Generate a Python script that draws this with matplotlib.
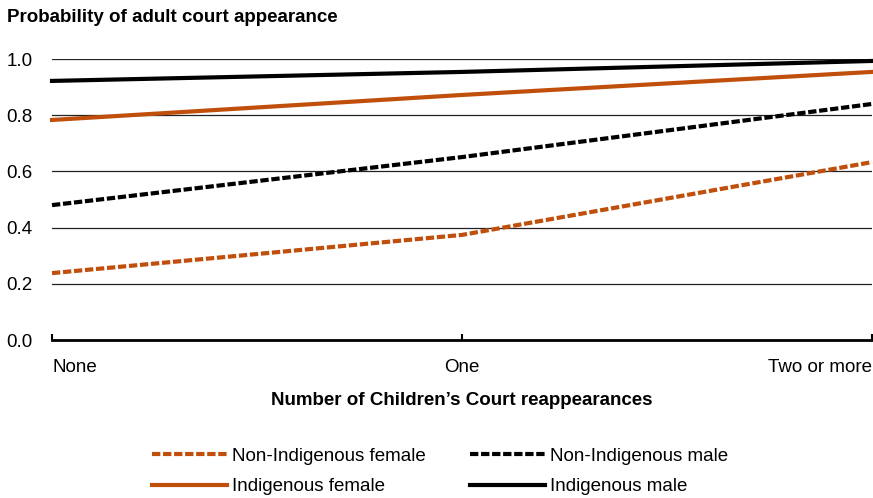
import matplotlib
matplotlib.use("Agg")
import matplotlib.pyplot as plt
from matplotlib.lines import Line2D

plt.rcParams['font.family'] = ['Liberation Sans', 'DejaVu Sans']

categories = ["None", "One", "Two or more"]
non_ind_female = [0.238, 0.374, 0.633]
non_ind_male = [0.480, 0.651, 0.840]
ind_female = [0.783, 0.872, 0.954]
ind_male = [0.922, 0.954, 0.993]
yticks = [0.0, 0.2, 0.4, 0.6, 0.8, 1.0]

orange = "#C04F0C"
fs = 13.5
fig = plt.figure(figsize=(8.73, 4.98), dpi=100)
ax = fig.add_axes([52/873, 1-340/498, 820/873, 281/498])

x = list(range(len(categories)))
for yv in yticks[1:]:
    ax.axhline(yv, color="#222222", lw=0.9, zorder=1)

dash = (0, (2.0, 0.65))
lw = 3.0
ax.plot(x, non_ind_female, color=orange, lw=lw, ls=dash, clip_on=False, zorder=3)
ax.plot(x, non_ind_male, color="black", lw=lw, ls=dash, clip_on=False, zorder=3)
ax.plot(x, ind_female, color=orange, lw=lw, clip_on=False, zorder=3)
ax.plot(x, ind_male, color="black", lw=lw, clip_on=False, zorder=3)

ax.set_xlim(0, 2)
ax.set_ylim(0, 1.0)
for s in ["top", "right", "left"]:
    ax.spines[s].set_visible(False)
ax.spines["bottom"].set_linewidth(2)
ax.set_yticks(yticks)
ax.set_yticklabels([f"{v:.1f}" for v in yticks], fontsize=fs)
ax.tick_params(axis="y", length=0, pad=14)
ax.set_xticks(x)
ax.set_xticklabels(categories, fontsize=fs)
ax.tick_params(axis="x", direction="in", length=4, width=1.5, pad=13.5)
labs = ax.get_xticklabels()
labs[0].set_ha("left")
labs[2].set_ha("right")

fig.text(7/873, 1-18/498, "Probability of adult court appearance", fontsize=fs,
         fontweight="bold", va="center", ha="left")
fig.text(462/873, 1-400/498, "Number of Children\u2019s Court reappearances", fontsize=fs,
         fontweight="bold", va="center", ha="center")

handles = [
    Line2D([], [], color=orange, lw=lw, ls=dash),
    Line2D([], [], color=orange, lw=lw),
    Line2D([], [], color="black", lw=lw, ls=dash),
    Line2D([], [], color="black", lw=lw),
]
labels = ["Non-Indigenous female", "Indigenous female", "Non-Indigenous male", "Indigenous male"]
fig.legend(handles, labels, ncol=2, loc="center", bbox_to_anchor=(440/873, 1-471.5/498),
           frameon=False, fontsize=fs, handlelength=4.0, handletextpad=0.25,
           columnspacing=2.35, labelspacing=0.7, borderpad=0)

fig.savefig("out.png", dpi=100)
